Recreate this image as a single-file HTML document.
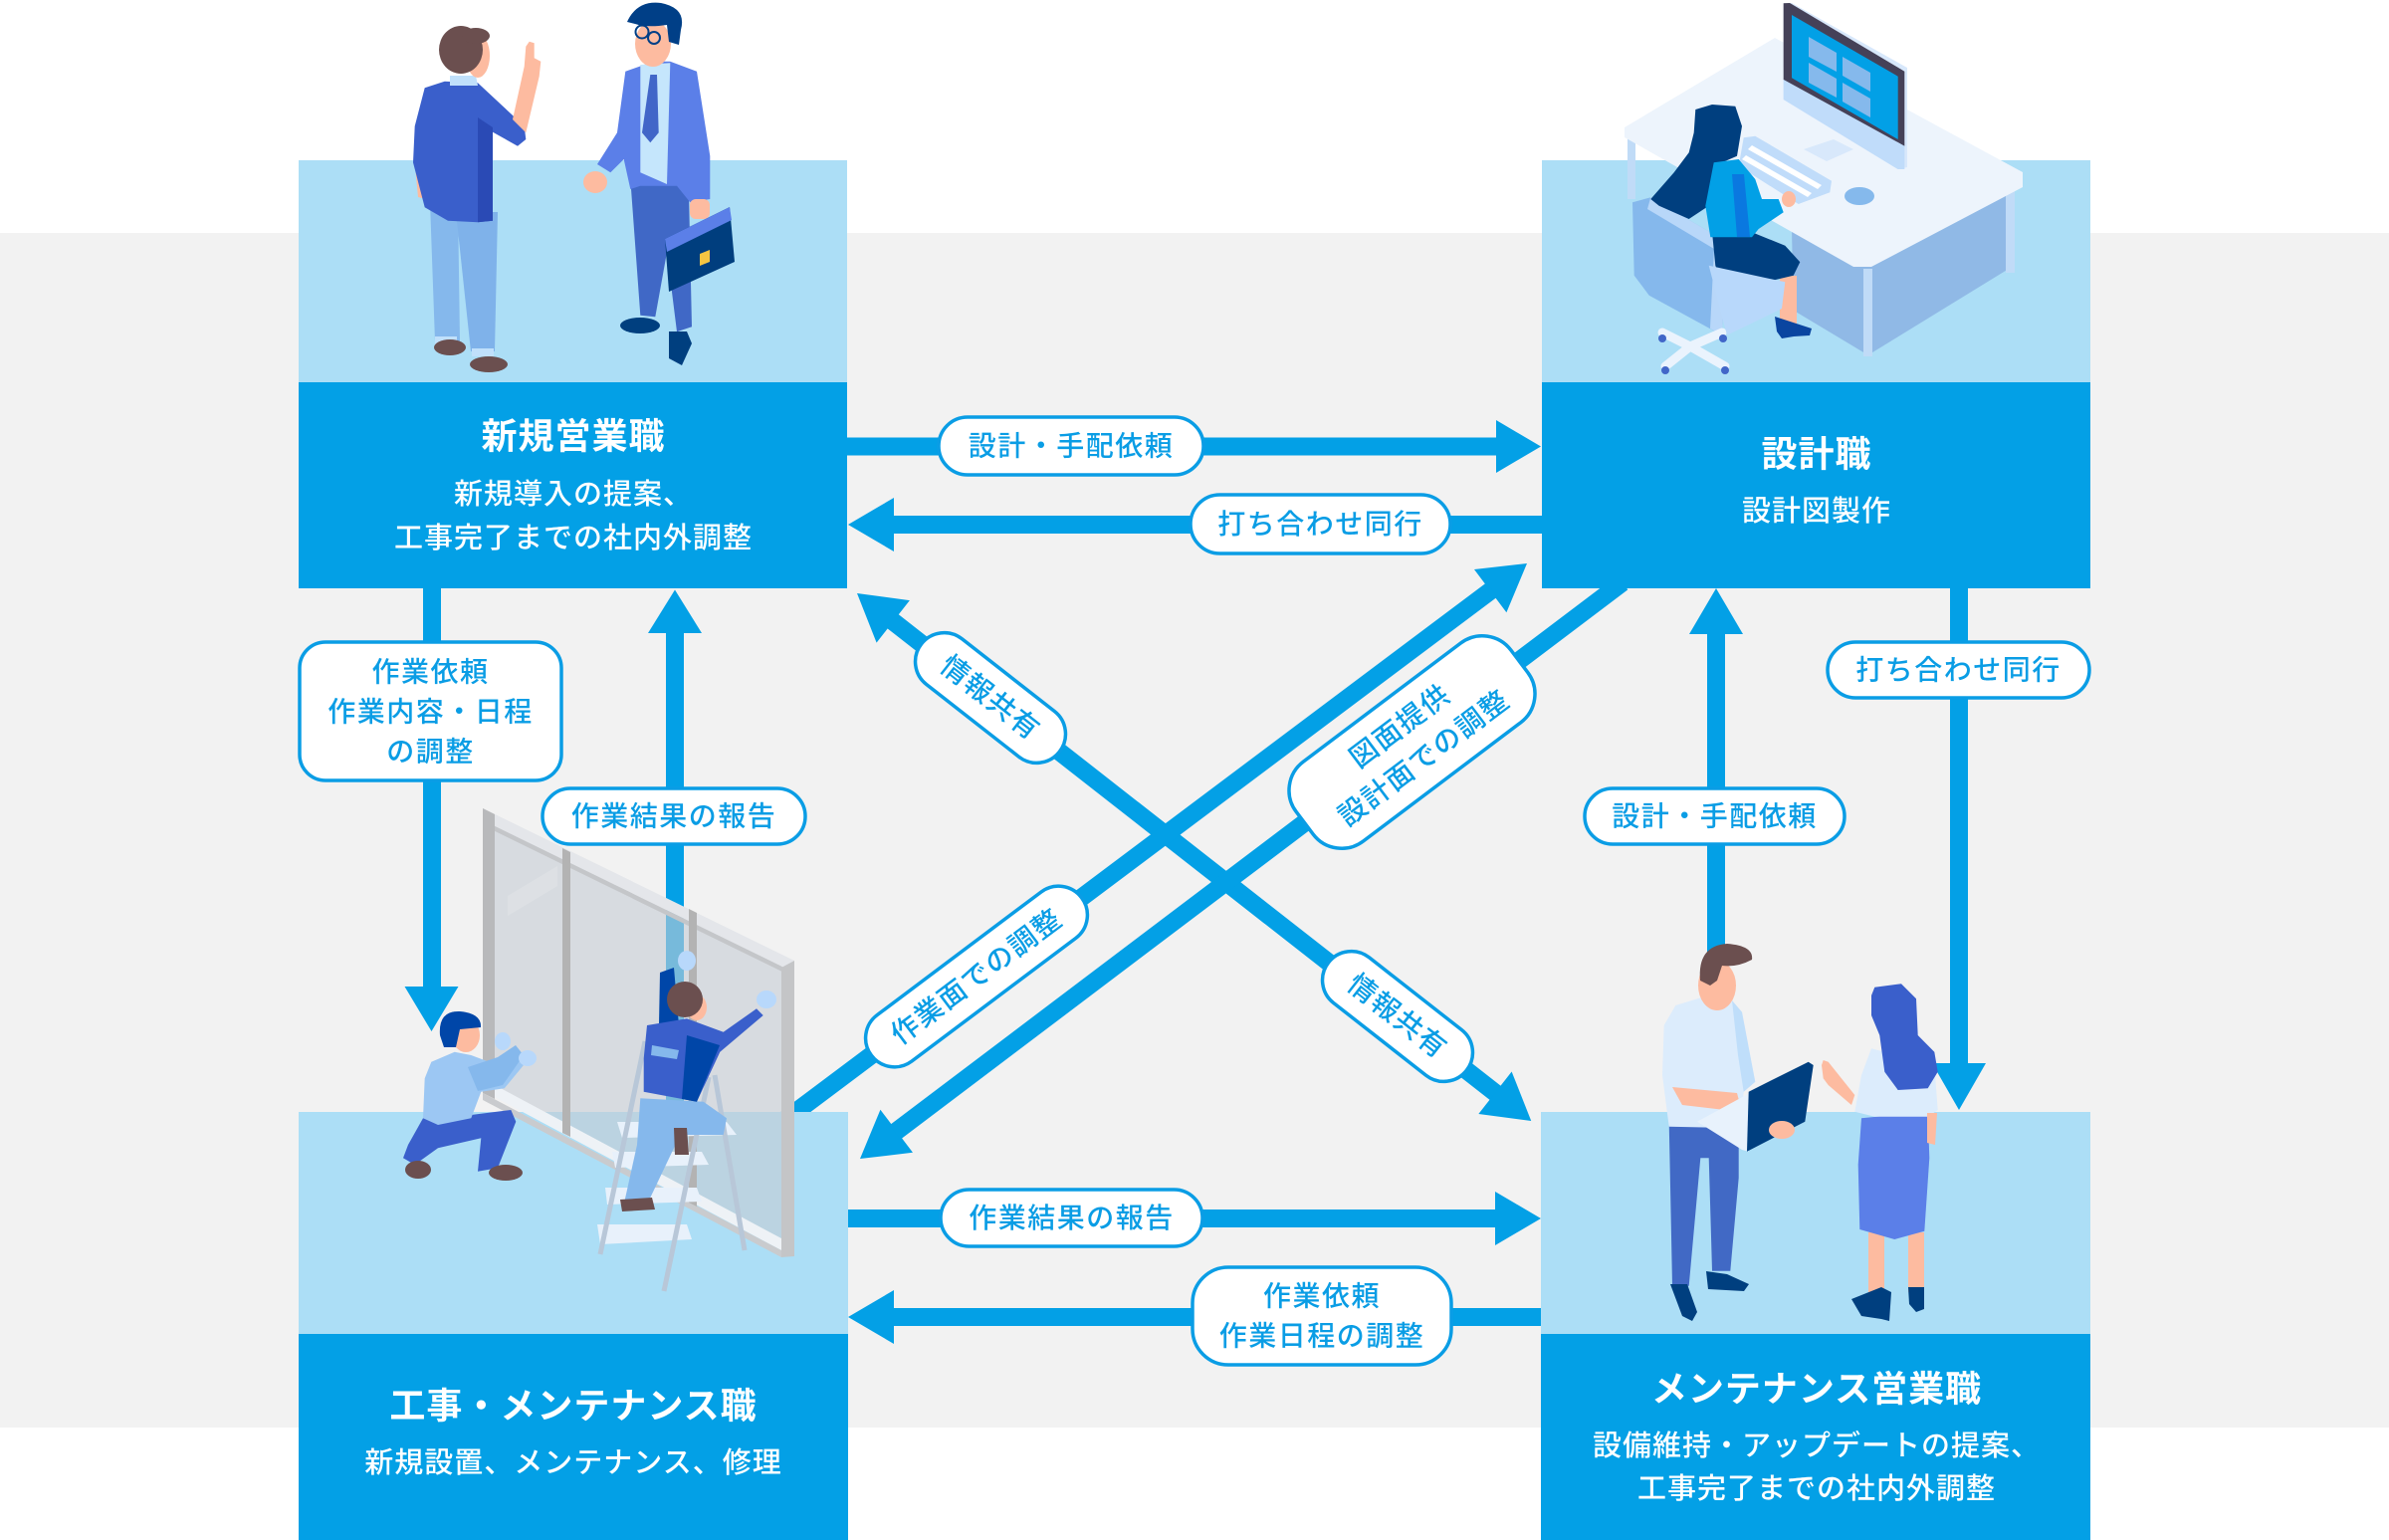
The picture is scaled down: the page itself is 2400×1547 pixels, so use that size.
<!DOCTYPE html>
<html><head><meta charset="utf-8"><style>
html,body{margin:0;padding:0;background:#fff;}
svg{display:block;}
text{font-family:"Liberation Sans","Noto Sans CJK JP",sans-serif;}
.pt{font-size:28px;fill:#0a9de5;font-weight:500;letter-spacing:1.5px;}
.bt{font-size:36px;fill:#fff;font-weight:700;letter-spacing:1px;}
.bs{font-size:29px;fill:#fff;font-weight:500;letter-spacing:1px;}
</style></head><body>
<svg width="2400" height="1547" viewBox="0 0 2400 1547" xmlns="http://www.w3.org/2000/svg">
<rect x="0" y="0" width="2400" height="1547" fill="#ffffff"/>
<rect x="0" y="234" width="2400" height="1200" fill="#f2f2f2"/>

<!-- diagonal arrows -->
<g fill="#03a0e6">
 <g transform="translate(861,596) rotate(38.05)">
  <polygon points="0,0 46,-27 46,27"/><rect x="44" y="-9" width="772" height="18"/><polygon points="860,0 814,-27 814,27"/>
 </g>
 <g transform="translate(1534,566) rotate(143.13)">
  <polygon points="0,0 46,-27 46,27"/><rect x="44" y="-9" width="886" height="18"/>
 </g>
 <g transform="translate(864,1164) rotate(-37.08)">
  <polygon points="0,0 46,-27 46,27"/><rect x="44" y="-9" width="916" height="18"/>
 </g>
 <!-- horizontal -->
 <rect x="851" y="439.5" width="654" height="18"/><polygon points="1503,422 1548,448.5 1503,475"/>
 <rect x="896" y="518" width="653" height="18"/><polygon points="898,500 852,527 898,554"/>
 <rect x="851" y="1215" width="654" height="18"/><polygon points="1502,1197 1548,1224 1502,1251"/>
 <rect x="896" y="1314" width="653" height="18"/><polygon points="898,1296 852,1323 898,1350"/>
 <!-- vertical -->
 <rect x="425" y="588" width="18" height="405"/><polygon points="406.5,991 433.5,1036 460.5,991"/>
 <rect x="669" y="634" width="18" height="486"/><polygon points="651,636 678,592.5 705,636"/>
 <rect x="1715" y="635" width="18" height="485"/><polygon points="1697,637 1724,591 1751,637"/>
 <rect x="1959" y="588" width="18" height="482"/><polygon points="1941,1068 1968,1115 1995,1068"/>
</g>

<!-- boxes -->
<rect x="300" y="161" width="551" height="224" fill="#acdef6"/>
<rect x="300" y="384" width="551" height="207" fill="#03a0e6"/>
<rect x="1549" y="161" width="551" height="224" fill="#acdef6"/>
<rect x="1549" y="384" width="551" height="207" fill="#03a0e6"/>
<rect x="300" y="1117" width="552" height="224" fill="#acdef6"/>
<rect x="300" y="1340" width="552" height="207" fill="#03a0e6"/>
<rect x="1548" y="1117" width="552" height="224" fill="#acdef6"/>
<rect x="1548" y="1340" width="552" height="207" fill="#03a0e6"/>

<!-- TL illustration -->
<g>
 <polygon points="432,203 460,203 462,343 437,343" fill="#85b8ec"/>
 <polygon points="458,213 500,213 497,353 473,353" fill="#7fb2ea"/>
 <rect x="437" y="338" width="22" height="8" fill="#c0e0fb"/>
 <rect x="474" y="350" width="22" height="8" fill="#c0e0fb"/>
 <ellipse cx="452" cy="349" rx="16" ry="8" fill="#6b4f4f"/>
 <ellipse cx="491" cy="366" rx="19" ry="8" fill="#6b4f4f"/>
 <polygon points="417,167 428,167 428,200 420,198" fill="#fdbba0"/>
 <polygon points="426.7,88.3 446.7,81.7 480,83.3 526.7,126.7 528.3,140 520,146.7 493.3,131.7 495,221.7 480,223.3 450,221.7 426.7,208.3 415,163.3 416.7,126.7" fill="#3a5fcb"/>
 <polygon points="480,118 495,128 495,221.7 480,223.3" fill="#2a4ab5"/>
 <polygon points="531.7,41.7 536.7,43.3 536.7,58.3 543.3,61.7 541.7,76.7 528.3,133.3 515,120 526.7,66.7 528.3,46.7" fill="#fdbba0"/>
 <polygon points="452,76 478,76 480,86 452,86" fill="#c0e0fb"/>
 <ellipse cx="480" cy="56" rx="12" ry="22" fill="#fdbba0"/>
 <ellipse cx="463" cy="50" rx="22" ry="24" fill="#6b4f4f"/>
 <ellipse cx="478" cy="36" rx="14" ry="8" fill="#6b4f4f"/>
 <!-- man 2 -->
 <polygon points="633.3,180 691.7,180 695,328.3 680,333.3 670,253.3 658.3,318.3 643.3,316.7" fill="#4068c6"/>
 <ellipse cx="643" cy="327" rx="20" ry="8" fill="#003f7f"/>
 <polygon points="672,333 690,333 695,345 685,367 672,360" fill="#003f7f"/>
 <polygon points="628.3,71.7 656.7,61.7 673.3,61.7 700,71.7 713.3,156.7 713.3,200 693.3,203.3 680,186.7 643.3,186.7 633.3,190 626.7,160 613.3,173.3 600,165 620,133.3" fill="#5b7fe8"/>
 <polygon points="643.3,65 673.3,63.3 670,185 643.3,173.3" fill="#c5e6fc"/>
 <polygon points="653.3,75 660,75 661.7,133.3 653.3,143.3 645,133.3" fill="#4166c8"/>
 <ellipse cx="598" cy="183" rx="12" ry="11" fill="#fdbba0"/>
 <rect x="693" y="200" width="20" height="20" rx="6" fill="#fdbba0"/>
 <polygon points="668,240 733,208 738,263 672,293" fill="#003e7e"/>
 <polygon points="668,240 733,208 735,221 670,253" fill="#5b7fe8"/>
 <polygon points="703,255 713,251 713,263 703,267" fill="#f5c542"/>
 <ellipse cx="656" cy="44" rx="18" ry="23" fill="#fdbba0"/>
 <path d="M630,22 Q640,0 664,3 Q690,8 684,30 L682,45 L672,42 L670,25 Q650,28 638,24 Z" fill="#003f87"/>
 <circle cx="645" cy="32" r="6.5" fill="none" stroke="#003f87" stroke-width="2"/>
 <circle cx="657" cy="38" r="6" fill="none" stroke="#003f87" stroke-width="2"/>
</g>

<!-- TR illustration -->
<g>
 <polygon points="1800,230 1876.7,266.7 2020,190 2023.3,266.7 1876.7,356.7 1801.7,311.7" fill="#90b9e6"/>
 <rect x="1872" y="270" width="9" height="88" fill="#c0dbf7"/>
 <rect x="2015" y="190" width="9" height="84" fill="#c0dbf7"/>
 <rect x="1635" y="134" width="8" height="66" fill="#c0dbf7"/>
 <polygon points="1632,128 1783,38 2032,173 2032,188 1880,268 1862,268 1632,138" fill="#edf4fc"/>
 <polygon points="1791.7,3.3 1800,3 1916,68 1916,168 1906.7,170 1791.7,100" fill="#d8e8fb"/>
 <polygon points="1791.7,3.3 1798,3 1913.3,71.7 1913.3,146.7 1791.7,80" fill="#454158"/>
 <polygon points="1800,15 1906.7,76.7 1906.7,140 1800,78.3" fill="#02a0e6"/>
 <polygon points="1817,37 1845,53 1845,72 1817,57" fill="#85b9ec"/>
 <polygon points="1851,57 1879,73 1879,92 1851,76" fill="#85b9ec"/>
 <polygon points="1817,63 1845,79 1845,98 1817,83" fill="#85b9ec"/>
 <polygon points="1851,83 1879,99 1879,118 1851,102" fill="#85b9ec"/>
 <polygon points="1791.7,80 1913.3,146.7 1913.3,170 1906.7,170 1791.7,100" fill="#c0dcfa"/>
 <polygon points="1812,150 1842,140 1862,150 1835,162" fill="#d8e8fb"/>
 <polygon points="1751.7,138.3 1763.3,136.7 1840,181.7 1838.3,193.3 1806.7,205 1746.7,166.7" fill="#c0dcfa"/>
 <polygon points="1760,146 1830,186 1826,190 1756,150" fill="#ffffff"/>
 <polygon points="1754,156 1820,194 1816,198 1750,160" fill="#ffffff"/>
 <ellipse cx="1868" cy="197" rx="15" ry="9" fill="#85b9ec"/>
 <polygon points="1640,203.3 1658.3,198.3 1735,243.3 1730,336.7 1656.7,296.7 1641.7,276.7" fill="#85b8ec"/>
 <polygon points="1658.3,198.3 1735,243.3 1730,336.7 1718,330 1722,250 1655,210" fill="#b8d7f9"/>
 <g stroke="#eaf3fd" stroke-width="9" stroke-linecap="round">
  <line x1="1698" y1="348" x2="1670" y2="334"/><line x1="1698" y1="348" x2="1730" y2="334"/>
  <line x1="1698" y1="348" x2="1673" y2="368"/><line x1="1698" y1="348" x2="1733" y2="368"/>
 </g>
 <g fill="#4166c8"><circle cx="1670" cy="340" r="4"/><circle cx="1731" cy="340" r="4"/><circle cx="1673" cy="372" r="4"/><circle cx="1733" cy="372" r="4"/></g>
 <polygon points="1703.3,110 1720,105 1743.3,106.7 1750,126.7 1745,156.7 1730,163.3 1723.3,186.7 1716.7,206.7 1696.7,220 1666.7,206.7 1658.3,200 1681.7,173.3 1696.7,153.3 1701.7,133.3" fill="#003f7f"/>
 <rect x="1788" y="277" width="17" height="53" fill="#fdbba0"/>
 <polygon points="1720,233.3 1760,233.3 1793.3,246.7 1808.3,263.3 1801.7,276.7 1760,286.7 1735,298.3 1723.3,266.7" fill="#003f7f"/>
 <polygon points="1716.7,266.7 1793.3,283.3 1790,310 1735,336.7" fill="#b8d8fb"/>
 <polygon points="1721.7,163.3 1746.7,160 1763.3,180 1770,200 1786.7,200 1791.7,213.3 1766.7,230 1760,238.3 1718.3,238.3 1713.3,206.7" fill="#02a0e6"/>
 <polygon points="1740,175 1752,175 1758,238 1745,238" fill="#0a78e0"/>
 <ellipse cx="1797" cy="200" rx="7" ry="8" fill="#fdbba0"/>
 <polygon points="1783,318 1820,330 1818,337 1802,338 1790,340 1785,333" fill="#0a45a0"/>
</g>

<!-- pills (left one partially under window) -->
<rect x="545" y="792" width="264" height="56" rx="28" fill="#ffffff" stroke="#0a9de5" stroke-width="3.5"/>

<!-- BL illustration -->
<g>
 <!-- glass -->
 <polygon points="497,824 785,966 785,1245 497,1098" fill="#c5cbd3" opacity="0.6"/>
 <polygon points="510,900 560,870 560,890 510,920" fill="#ffffff" opacity="0.15"/>
 <!-- frame -->
 <polygon points="485,812 798,965 798,977 485,824" fill="#e4e6ea"/>
 <polygon points="485,824 798,977 798,982 485,829" fill="#c4c6c9"/>
 <polygon points="485,812 497,818 497,1104 485,1098" fill="#b8b9bb"/>
 <polygon points="497,1090 785,1244 785,1256 497,1102" fill="#eef2f6"/>
 <polygon points="485,1098 785,1256 785,1263 485,1105" fill="#c9cbce"/>
 <polygon points="565,852 573,856 573,1142 565,1138" fill="#b3b3b3"/>
 <polygon points="692,913 700,917 700,1212 692,1208" fill="#b3b3b3"/>
 <polygon points="785,972 798,965 798,1262 785,1263" fill="#c4c5c7"/>
 <!-- worker 1 -->
 <polygon points="425,1123.3 473.3,1120 513.3,1115 518.3,1126.7 500,1173.3 480,1176.7 483.3,1143.3 440,1153.3 416.7,1170 405,1163.3 410,1150" fill="#3a5fcb"/>
 <ellipse cx="420" cy="1175" rx="13" ry="9" fill="#6b4f4f"/>
 <ellipse cx="508" cy="1178" rx="17" ry="8" fill="#6b4f4f"/>
 <polygon points="433.3,1066.7 456.7,1056.7 473.3,1060 500,1070 516.7,1060 530,1065 523.3,1073.3 506.7,1093.3 483.3,1096.7 473.3,1123.3 440,1130 425,1123.3 426.7,1083.3" fill="#9cc7f3"/>
 <polygon points="470,1072 500,1062 518,1050 526,1060 505,1090 480,1096" fill="#85b8ec"/>
 <ellipse cx="505" cy="1046" rx="8" ry="9" fill="#b8d8fb"/>
 <ellipse cx="530" cy="1063" rx="9" ry="8" fill="#b8d8fb"/>
 <ellipse cx="468" cy="1040" rx="14" ry="17" fill="#fdbba0"/>
 <path d="M442,1040 Q440,1015 462,1016 Q484,1018 483,1032 L462,1034 L458,1052 L446,1052 Z" fill="#0046a8"/>
 <!-- ladder -->
 <g fill="#e8f1fb">
  <polygon points="620,1127 730,1127 740,1140 625,1143"/>
  <polygon points="615,1157 705,1157 712,1170 618,1173"/>
  <polygon points="608,1193 700,1193 705,1207 610,1210"/>
  <polygon points="600,1230 690,1230 695,1245 603,1250"/>
 </g>
 <g stroke="#b8c7d8" stroke-width="5">
  <line x1="648" y1="1046" x2="603" y2="1260"/><line x1="712" y1="1082" x2="667" y2="1297"/><line x1="718" y1="1080" x2="748" y2="1256"/>
 </g>
 <!-- worker 2 -->
 <polygon points="643.3,1103.3 706.7,1106.7 730,1123.3 726.7,1140 683.3,1140 650,1210 626.7,1210 640,1150" fill="#85b8ec"/>
 <polygon points="677,1133 690,1133 692,1160 678,1160" fill="#6b4f4f"/>
 <polygon points="623,1205 655,1203 658,1215 625,1217" fill="#6b4f4f"/>
 <polygon points="663,977 677,972 682,1030 662,1030" fill="#0046a8"/>
 <ellipse cx="690" cy="965" rx="9" ry="10" fill="#b8d8fb"/>
 <polygon points="650,1030 690,1023.3 726.7,1036.7 760,1013.3 766.7,1020 723.3,1056.7 700,1106.7 646.7,1096.7 646.7,1063.3" fill="#3a5fcb"/>
 <polygon points="690,1040 723,1050 700,1106.7 685,1104" fill="#0046a8"/>
 <polygon points="655,1050 682,1055 680,1064 654,1060" fill="#85b8ec"/>
 <ellipse cx="770" cy="1004" rx="10" ry="9" fill="#b8d8fb"/>
 <ellipse cx="700" cy="1012" rx="10" ry="13" fill="#fdbba0"/>
 <ellipse cx="688" cy="1004" rx="18" ry="18" fill="#6b4f4f"/>
</g>

<!-- BR illustration -->
<g>
 <polygon points="1676.7,1126.7 1746.7,1126.7 1746.7,1183.3 1738.3,1276.7 1720,1276.7 1716.7,1163.3 1708.3,1163.3 1696.7,1291.7 1680,1291.7" fill="#4169c5"/>
 <polygon points="1678,1290 1695,1290 1705,1318 1700,1327 1690,1322" fill="#003f7f"/>
 <polygon points="1714,1277 1735,1280 1757,1290 1752,1297 1716,1295" fill="#003f7f"/>
 <polygon points="1683.3,1010 1710,1001.7 1740,1005 1750,1016.7 1763.3,1086.7 1751.7,1096.7 1748.3,1133.3 1676.7,1131.7 1670,1080 1671.7,1030" fill="#dcecfc"/>
 <polygon points="1740,1005 1750,1016.7 1763.3,1086.7 1751.7,1096.7 1746,1060" fill="#bfdefa"/>
 <polygon points="1680,1092 1745,1098 1750,1117 1690,1110" fill="#fdbba0"/>
 <polygon points="1705,1126.7 1760,1096.7 1756.7,1156.7 1750,1155" fill="#e8f2fc"/>
 <polygon points="1756.7,1096.7 1816.7,1066.7 1821.7,1070 1813.3,1126.7 1755,1156.7" fill="#003f7f"/>
 <ellipse cx="1790" cy="1135" rx="13" ry="9" fill="#fdbba0"/>
 <ellipse cx="1725" cy="990" rx="19" ry="25" fill="#fdbba0"/>
 <path d="M1708,985 Q1705,950 1735,948 Q1762,950 1760,964 Q1745,972 1730,970 L1725,985 L1718,990 Z" fill="#6b4f4f"/>
 <!-- woman -->
 <rect x="1877" y="1238" width="16" height="62" fill="#fdbba0"/>
 <rect x="1917" y="1238" width="16" height="60" fill="#fdbba0"/>
 <polygon points="1860,1305 1890,1293 1900,1298 1898,1327 1890,1325 1870,1322" fill="#003f7f"/>
 <polygon points="1917,1293 1933,1293 1933,1315 1925,1318 1918,1310" fill="#003f7f"/>
 <polygon points="1870,1123.3 1936.7,1116.7 1938.3,1163.3 1933.3,1236.7 1903.3,1245 1868.3,1235 1866.7,1170" fill="#5b7fe8"/>
 <polygon points="1880,1053.3 1943.3,1070 1946.7,1115 1936.7,1121.7 1883.3,1121.7 1863.3,1116.7 1870,1080" fill="#dcecfc"/>
 <polygon points="1831.7,1065 1836.7,1066.7 1863.3,1100 1860,1110 1836.7,1090 1831.7,1083.3 1830,1070" fill="#fdbba0"/>
 <polygon points="1936,1118 1946,1118 1944,1150 1936,1148" fill="#fdbba0"/>
 <polygon points="1883.3,991.7 1910,988.3 1925,1003.3 1926.7,1040 1943.3,1056.7 1946.7,1076.7 1936.7,1093.3 1906.7,1095 1893.3,1076.7 1888.3,1040 1880,1020 1880,1000" fill="#3a5fcb"/>
</g>

<!-- pills -->
<g fill="#ffffff" stroke="#0a9de5" stroke-width="3.5">
 <rect x="943" y="419" width="266" height="58" rx="29"/>
 <rect x="1196" y="497" width="261" height="59" rx="29.5"/>
 <rect x="301" y="645" width="263" height="139" rx="26"/>
 <rect x="1592" y="792" width="261" height="56" rx="28"/>
 <rect x="1836" y="645" width="263" height="56" rx="28"/>
 <rect x="945" y="1195" width="263" height="57" rx="28.5"/>
 <rect x="1198" y="1273" width="260" height="98" rx="36"/>
 <g transform="translate(995,701) rotate(38.05)"><rect x="-88" y="-29" width="176" height="58" rx="29"/></g>
 <g transform="translate(1404,1021) rotate(38.05)"><rect x="-88" y="-29" width="176" height="58" rx="29"/></g>
 <g transform="translate(981,981) rotate(-36.87)"><rect x="-132" y="-29" width="264" height="58" rx="29"/></g>
 <g transform="translate(1418.5,745.5) rotate(-37)"><rect x="-135" y="-50" width="270" height="100" rx="36"/></g>
</g>

<g class="pt" text-anchor="middle" dominant-baseline="central">
 <text class="pt" x="1076" y="448">設計・手配依頼</text>
 <text class="pt" x="1326.5" y="526.5">打ち合わせ同行</text>
 <text class="pt" x="432.5" y="675">作業依頼</text>
 <text class="pt" x="432.5" y="715">作業内容・日程</text>
 <text class="pt" x="432.5" y="755">の調整</text>
 <text class="pt" x="677" y="820">作業結果の報告</text>
 <text class="pt" x="1722.5" y="820">設計・手配依頼</text>
 <text class="pt" x="1967.5" y="673">打ち合わせ同行</text>
 <text class="pt" x="1076.5" y="1223.5">作業結果の報告</text>
 <text class="pt" x="1328" y="1302">作業依頼</text>
 <text class="pt" x="1328" y="1342">作業日程の調整</text>
 <text class="pt" transform="translate(995,701) rotate(38.05)" x="0" y="0">情報共有</text>
 <text class="pt" transform="translate(1404,1021) rotate(38.05)" x="0" y="0">情報共有</text>
 <text class="pt" transform="translate(981,981) rotate(-36.87)" x="0" y="0">作業面での調整</text>
 <text class="pt" transform="translate(1418.5,745.5) rotate(-37)" x="0" y="-20">図面提供</text>
 <text class="pt" transform="translate(1418.5,745.5) rotate(-37)" x="0" y="20">設計面での調整</text>
</g>

<!-- box text -->
<g text-anchor="middle" dominant-baseline="central">
 <text class="bt" x="576" y="438">新規営業職</text>
 <text class="bs" x="576" y="497">新規導入の提案、</text>
 <text class="bs" x="576" y="541">工事完了までの社内外調整</text>
 <text class="bt" x="1825" y="456">設計職</text>
 <text class="bs" x="1825" y="514">設計図製作</text>
 <text class="bt" x="576" y="1412">工事・メンテナンス職</text>
 <text class="bs" x="576" y="1470">新規設置、メンテナンス、修理</text>
 <text class="bt" x="1825" y="1395">メンテナンス営業職</text>
 <text class="bs" x="1825" y="1453">設備維持・アップデートの提案、</text>
 <text class="bs" x="1825" y="1496">工事完了までの社内外調整</text>
</g>
</svg>
</body></html>
